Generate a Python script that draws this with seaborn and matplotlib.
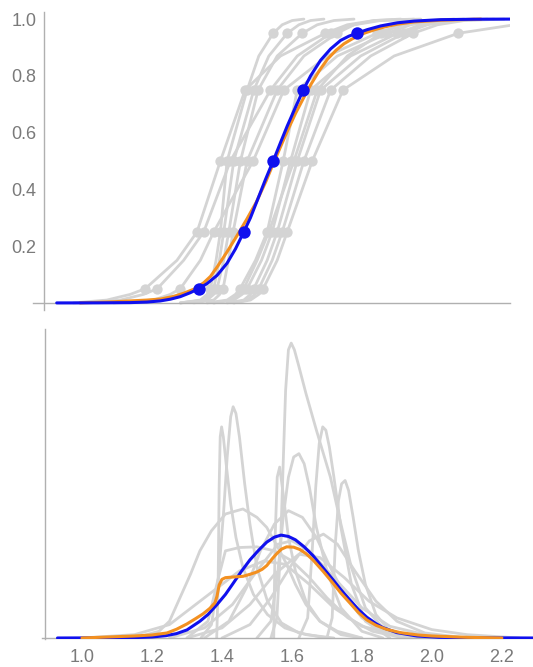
import numpy as np
import pandas as pd
import matplotlib
matplotlib.use("Agg")
import matplotlib.pyplot as plt
from matplotlib.ticker import MultipleLocator, NullFormatter
import seaborn as sns

# ---------------- data ----------------
# probability levels of each grey expert CDF (tails + elicited quantiles)
cdf_probs = [0.0, 0.01, 0.03, 0.05, 0.15, 0.25, 0.5, 0.75, 0.87, 0.95, 0.98, 0.995, 1.0]
quantile_probs = [0.05, 0.25, 0.5, 0.75, 0.95]
quantile_index = [3, 5, 6, 7, 9]

expert_01 = [1.30, 1.36, 1.38, 1.390, 1.407, 1.420, 1.440, 1.500, 1.535, 1.578, 1.605, 1.635, 1.67]
expert_02 = [1.30, 1.37, 1.39, 1.400, 1.417, 1.430, 1.460, 1.520, 1.565, 1.620, 1.655, 1.69, 1.73]
expert_03 = [1.30, 1.38, 1.40, 1.410, 1.430, 1.445, 1.480, 1.533, 1.590, 1.665, 1.71, 1.76, 1.82]
expert_04 = [0.98, 1.08, 1.15, 1.195, 1.290, 1.350, 1.420, 1.494, 1.600, 1.734, 1.80, 1.88, 2.00]
expert_05 = [1.00, 1.12, 1.19, 1.231, 1.310, 1.370, 1.450, 1.570, 1.650, 1.750, 1.82, 1.90, 2.02]
expert_06 = [1.34, 1.40, 1.418, 1.428, 1.444, 1.458, 1.500, 1.590, 1.670, 1.769, 1.82, 1.88, 1.96]
expert_07 = [1.10, 1.22, 1.27, 1.300, 1.360, 1.400, 1.518, 1.610, 1.740, 1.889, 1.97, 2.05, 2.15]
expert_08 = [1.38, 1.44, 1.465, 1.479, 1.525, 1.560, 1.608, 1.650, 1.770, 1.920, 1.99, 2.07, 2.18]
expert_09 = [1.40, 1.46, 1.485, 1.500, 1.543, 1.575, 1.630, 1.690, 1.810, 1.950, 2.02, 2.10, 2.22]
expert_10 = [1.44, 1.49, 1.51, 1.520, 1.560, 1.590, 1.650, 1.720, 1.840, 1.970, 2.04, 2.12, 2.24]
expert_11 = [1.46, 1.50, 1.523, 1.535, 1.575, 1.605, 1.670, 1.750, 1.870, 1.997, 2.07, 2.15, 2.27]
expert_12 = [1.46, 1.51, 1.535, 1.548, 1.590, 1.620, 1.695, 1.787, 1.940, 2.132, 2.30, 2.45, 2.60]
expert_13 = [1.40, 1.45, 1.475, 1.490, 1.530, 1.565, 1.640, 1.710, 1.800, 1.900, 1.96, 2.03, 2.12]
experts = [expert_01, expert_02, expert_03, expert_04, expert_05, expert_06,
           expert_07, expert_08, expert_09, expert_10, expert_11, expert_12,
           expert_13]

# pooled (blue) CDF and its quantile points
blue_cdf_x = [0.93, 1.05, 1.15, 1.20, 1.24, 1.27, 1.30, 1.33, 1.355, 1.38, 1.41,
              1.44, 1.465, 1.49, 1.51, 1.535, 1.555, 1.578, 1.60, 1.62, 1.645,
              1.668, 1.69, 1.72, 1.75, 1.78, 1.805, 1.828, 1.86, 1.90, 1.95,
              2.00, 2.08, 2.18, 2.29]
blue_cdf_y = [0.0, 0.0002, 0.001, 0.003, 0.007, 0.013, 0.022, 0.036, 0.05, 0.068,
              0.097, 0.14, 0.19, 0.25, 0.30, 0.375, 0.435, 0.5, 0.565, 0.623,
              0.69, 0.75, 0.80, 0.855, 0.895, 0.925, 0.94, 0.95, 0.963, 0.976,
              0.987, 0.993, 0.998, 0.9995, 1.0]
blue_q_x = [1.355, 1.49, 1.578, 1.668, 1.828]

# mixture (orange) CDF
orange_cdf_x = [1.00, 1.05, 1.10, 1.15, 1.20, 1.243, 1.28, 1.31, 1.344, 1.37,
                1.39, 1.41, 1.44, 1.475, 1.50, 1.528, 1.557, 1.578, 1.60, 1.623,
                1.645, 1.668, 1.69, 1.717, 1.74, 1.766, 1.79, 1.814, 1.85, 1.88,
                1.91, 1.95, 2.00, 2.08, 2.20]
orange_cdf_y = [0.0, 0.002, 0.004, 0.007, 0.01, 0.014, 0.023, 0.034, 0.05, 0.071,
                0.093, 0.126, 0.18, 0.247, 0.297, 0.356, 0.43, 0.49, 0.55, 0.612,
                0.668, 0.72, 0.768, 0.82, 0.858, 0.89, 0.913, 0.93, 0.95, 0.962,
                0.972, 0.982, 0.99, 0.996, 1.0]

# densities (lower panel)
blue_pdf_x = [0.93, 1.05, 1.15, 1.20, 1.24, 1.27, 1.30, 1.337, 1.36, 1.386, 1.41,
              1.43, 1.455, 1.48, 1.505, 1.528, 1.55, 1.569, 1.59, 1.61, 1.635,
              1.66, 1.69, 1.718, 1.74, 1.766, 1.79, 1.814, 1.84, 1.86, 1.90,
              1.957, 2.02, 2.10, 2.29]
blue_pdf_y = [0.0, 0.004, 0.012, 0.03, 0.07, 0.13, 0.24, 0.50, 0.70, 1.0, 1.30,
              1.60, 1.98, 2.33, 2.62, 2.86, 3.01, 3.07, 3.03, 2.93, 2.72,
              2.46, 2.08, 1.73, 1.44, 1.13, 0.85, 0.62, 0.43, 0.31, 0.16,
              0.06, 0.02, 0.006, 0.0]
orange_pdf_x = [1.00, 1.05, 1.10, 1.15, 1.20, 1.243, 1.27, 1.30, 1.325, 1.346,
                1.365, 1.38, 1.386, 1.392, 1.40, 1.41, 1.432, 1.46, 1.48, 1.50,
                1.515, 1.528, 1.545, 1.557, 1.57, 1.585, 1.605, 1.623, 1.64,
                1.66, 1.69, 1.717, 1.74, 1.766, 1.79, 1.814, 1.84, 1.87, 1.91,
                1.96, 2.00, 2.10, 2.20]
orange_pdf_y = [0.0, 0.02, 0.04, 0.06, 0.09, 0.15, 0.26, 0.42, 0.58, 0.72,
                0.88, 1.05, 1.25, 1.58, 1.75, 1.80, 1.82, 1.84, 1.90, 1.97,
                2.05, 2.16, 2.38, 2.52, 2.65, 2.72, 2.71, 2.64, 2.52,
                2.33, 1.98, 1.64, 1.34, 1.04, 0.76, 0.54, 0.38, 0.26, 0.16,
                0.09, 0.06, 0.02, 0.0]

gray_pdf_01_x = [1.385, 1.389, 1.392, 1.395, 1.399, 1.404, 1.412, 1.425, 1.44, 1.46,
                 1.49, 1.53, 1.58, 1.64, 1.72]
gray_pdf_01_y = [0.0, 1.5, 4.5, 6.0, 6.3, 6.0, 5.2, 4.0, 3.0, 2.1, 1.3, 0.7, 0.3, 0.1, 0.0]
gray_pdf_02_x = [1.34, 1.37, 1.39, 1.405, 1.415, 1.425, 1.432, 1.44, 1.45, 1.465,
                 1.48, 1.50, 1.53, 1.57, 1.62, 1.70]
gray_pdf_02_y = [0.0, 0.4, 1.8, 3.8, 5.4, 6.6, 6.9, 6.7, 6.0, 4.6, 3.4, 2.1, 1.1, 0.45, 0.15, 0.0]
gray_pdf_03_x = [1.54, 1.557, 1.567, 1.575, 1.582, 1.590, 1.598, 1.607, 1.62, 1.64,
                 1.67, 1.71, 1.74, 1.77, 1.81, 1.86, 1.93]
gray_pdf_03_y = [0.0, 0.6, 2.6, 5.2, 7.4, 8.6, 8.8, 8.6, 8.1, 7.3, 6.2, 4.8, 3.4, 2.1,
                 0.9, 0.3, 0.0]
gray_pdf_04_x = [1.62, 1.645, 1.658, 1.668, 1.678, 1.688, 1.697, 1.707, 1.72, 1.74,
                 1.77, 1.81, 1.88]
gray_pdf_04_y = [0.0, 0.6, 2.6, 4.5, 5.8, 6.3, 6.2, 5.7, 4.8, 3.3, 1.6, 0.5, 0.0]
gray_pdf_05_x = [1.50, 1.54, 1.56, 1.575, 1.59, 1.605, 1.62, 1.635, 1.65, 1.67, 1.70,
                 1.74, 1.80, 1.86]
gray_pdf_05_y = [0.0, 0.5, 2.0, 3.6, 4.8, 5.4, 5.5, 5.2, 4.5, 3.3, 2.0, 0.9, 0.2, 0.0]
gray_pdf_06_x = [1.548, 1.552, 1.558, 1.565, 1.575, 1.59, 1.61, 1.64, 1.68, 1.74, 1.80]
gray_pdf_06_y = [0.0, 3.0, 4.8, 5.1, 4.3, 3.0, 2.0, 1.1, 0.5, 0.1, 0.0]
gray_pdf_07_x = [1.70, 1.715, 1.724, 1.733, 1.742, 1.752, 1.762, 1.775, 1.79, 1.81,
                 1.84, 1.88, 1.93]
gray_pdf_07_y = [0.0, 0.6, 2.8, 4.1, 4.6, 4.7, 4.4, 3.6, 2.6, 1.6, 0.7, 0.2, 0.0]
gray_pdf_08_x = [1.15, 1.22, 1.25, 1.28, 1.31, 1.337, 1.37, 1.41, 1.46, 1.50, 1.528,
                 1.56, 1.585, 1.61, 1.64, 1.68, 1.73, 1.80]
gray_pdf_08_y = [0.0, 0.2, 0.5, 1.2, 1.9, 2.6, 3.2, 3.7, 3.85, 3.6, 3.3,
                 2.7, 2.2, 1.6, 1.0, 0.5, 0.2, 0.0]
gray_pdf_09_x = [1.35, 1.42, 1.47, 1.51, 1.55, 1.59, 1.63, 1.67, 1.71, 1.75, 1.80,
                 1.86, 1.95]
gray_pdf_09_y = [0.0, 0.5, 1.5, 2.6, 3.4, 3.8, 3.6, 3.0, 2.1, 1.3, 0.6, 0.2, 0.0]
gray_pdf_10_x = [1.30, 1.36, 1.39, 1.41, 1.45, 1.50, 1.55, 1.60, 1.65, 1.70, 1.76,
                 1.83, 1.92]
gray_pdf_10_y = [0.0, 0.5, 1.8, 2.6, 2.7, 2.72, 2.6, 2.3, 1.8, 1.2, 0.6, 0.2, 0.0]
gray_pdf_11_x = [1.40, 1.48, 1.54, 1.60, 1.65, 1.69, 1.73, 1.78, 1.84, 1.90, 1.98, 2.10]
gray_pdf_11_y = [0.0, 0.4, 1.2, 2.2, 2.9, 3.1, 2.8, 2.0, 1.1, 0.5, 0.15, 0.0]
gray_pdf_12_x = [1.30, 1.40, 1.48, 1.55, 1.62, 1.68, 1.75, 1.82, 1.90, 2.00, 2.10, 2.25]
gray_pdf_12_y = [0.0, 0.3, 1.0, 1.9, 2.5, 2.4, 1.8, 1.1, 0.6, 0.25, 0.1, 0.0]
gray_pdf_13_x = [1.25, 1.35, 1.43, 1.50, 1.56, 1.60, 1.65, 1.72, 1.80, 1.88, 1.98, 2.10]
gray_pdf_13_y = [0.0, 0.3, 1.0, 2.0, 2.8, 2.9, 2.6, 1.8, 0.9, 0.35, 0.1, 0.0]
gray_pdf_14_x = [1.00, 1.15, 1.25, 1.35, 1.45, 1.52, 1.58, 1.65, 1.72, 1.80, 1.90, 2.00]
gray_pdf_14_y = [0.0, 0.1, 0.4, 1.2, 2.0, 2.3, 2.2, 1.6, 0.9, 0.35, 0.1, 0.0]
gray_pdfs = [(gray_pdf_01_x, gray_pdf_01_y), (gray_pdf_02_x, gray_pdf_02_y),
             (gray_pdf_03_x, gray_pdf_03_y), (gray_pdf_04_x, gray_pdf_04_y),
             (gray_pdf_05_x, gray_pdf_05_y), (gray_pdf_06_x, gray_pdf_06_y),
             (gray_pdf_07_x, gray_pdf_07_y), (gray_pdf_08_x, gray_pdf_08_y),
             (gray_pdf_09_x, gray_pdf_09_y), (gray_pdf_10_x, gray_pdf_10_y),
             (gray_pdf_11_x, gray_pdf_11_y), (gray_pdf_12_x, gray_pdf_12_y),
             (gray_pdf_13_x, gray_pdf_13_y), (gray_pdf_14_x, gray_pdf_14_y)]

top_ytick_values = [0.2, 0.4, 0.6, 0.8, 1.0]
top_ytick_labels = ["0.2", "0.4", "0.6", "0.8", "1.0"]
bottom_xtick_values = [1.0, 1.2, 1.4, 1.6, 1.8, 2.0, 2.2]
bottom_xtick_labels = ["1.0", "1.2", "1.4", "1.6", "1.8", "2.0", "2.2"]

# ---------------- styling ----------------
sns.set_style("white")
plt.rcParams["font.family"] = ["Liberation Sans", "DejaVu Sans"]

GRAY = "#d4d4d4"
BLUE = "#1010ee"
ORANGE = "#f39020"
AXIS = "#b0b0b0"
LABEL = "#7a7a7a"

fig = plt.figure(figsize=(5.33, 6.67), dpi=100)
ax1 = fig.add_axes([33 / 533, 1 - 310 / 667, 477 / 533, 298 / 667])
ax2 = fig.add_axes([41.75 / 533, 1 - 639 / 667, 491.25 / 533, 310 / 667])

# ---------------- top: CDFs ----------------
cdf_rows = []
dot_rows = []
for i, qs in enumerate(experts):
    for xv, pv in zip(qs, cdf_probs):
        cdf_rows.append({"curve": i, "x": xv, "p": pv})
    for k, pv in zip(quantile_index, quantile_probs):
        dot_rows.append({"x": qs[k], "p": pv})
cdf_df = pd.DataFrame(cdf_rows)
dot_df = pd.DataFrame(dot_rows)

sns.lineplot(data=cdf_df, x="x", y="p", units="curve", estimator=None,
             sort=False, color=GRAY, lw=2.0, ax=ax1, zorder=2)
sns.scatterplot(data=dot_df, x="x", y="p", color=GRAY, s=55, linewidth=0,
                ax=ax1, zorder=3)
sns.lineplot(x=orange_cdf_x, y=orange_cdf_y, color=ORANGE, lw=2.2, sort=False,
             ax=ax1, zorder=4)
sns.lineplot(x=blue_cdf_x, y=blue_cdf_y, color=BLUE, lw=2.2, sort=False,
             ax=ax1, zorder=5)
sns.scatterplot(x=blue_q_x, y=quantile_probs, color=BLUE, s=80, linewidth=0,
                ax=ax1, zorder=6)

ax1.set_xlim(0.859, 2.287)
ax1.set_ylim(-0.025, 1.025)

# ---------------- bottom: PDFs ----------------
pdf_rows = []
for i, (xs, ys) in enumerate(gray_pdfs):
    for xv, yv in zip(xs, ys):
        pdf_rows.append({"curve": i, "x": xv, "d": yv})
pdf_df = pd.DataFrame(pdf_rows)
sns.lineplot(data=pdf_df, x="x", y="d", units="curve", estimator=None,
             sort=False, color=GRAY, lw=2.0, ax=ax2, zorder=2)
sns.lineplot(x=orange_pdf_x, y=orange_pdf_y, color=ORANGE, lw=2.2, sort=False,
             ax=ax2, zorder=5)
sns.lineplot(x=blue_pdf_x, y=blue_pdf_y, color=BLUE, lw=2.2, sort=False,
             ax=ax2, zorder=4)
ax2.set_xlim(0.885, 2.289)
ax2.set_ylim(-0.03, 9.22)

# ---------------- axes ----------------
for ax, yaxis_x in ((ax1, 0.891), (ax2, 0.893)):
    ax.set_xlabel("")
    ax.set_ylabel("")
    ax.spines["top"].set_visible(False)
    ax.spines["right"].set_visible(False)
    ax.spines["left"].set_position(("data", yaxis_x))
    ax.spines["bottom"].set_position(("data", 0))
    for s in ("left", "bottom"):
        ax.spines[s].set_color(AXIS)
        ax.spines[s].set_linewidth(1.0)
    ax.xaxis.set_minor_locator(MultipleLocator(0.05))
    ax.tick_params(which="major", direction="in", length=4, width=0.8,
                   color=AXIS, labelcolor=LABEL, labelsize=13)
    ax.tick_params(which="minor", direction="in", length=2, width=0.6,
                   color=AXIS)
    ax.patch.set_alpha(0)

ax1.set_xticks(bottom_xtick_values)
ax1.set_xticklabels([])
ax1.set_yticks(top_ytick_values)
ax1.set_yticklabels(top_ytick_labels)
ax1.yaxis.set_minor_locator(MultipleLocator(0.05))
ax1.tick_params(axis="y", which="major", pad=5)

ax2.set_xticks(bottom_xtick_values)
ax2.set_xticklabels(bottom_xtick_labels)
ax2.tick_params(axis="x", which="major", pad=8)
ax2.yaxis.set_major_locator(MultipleLocator(2.0))
ax2.yaxis.set_minor_locator(MultipleLocator(0.5))
ax2.yaxis.set_major_formatter(NullFormatter())

fig.savefig("out.png", dpi=100)
